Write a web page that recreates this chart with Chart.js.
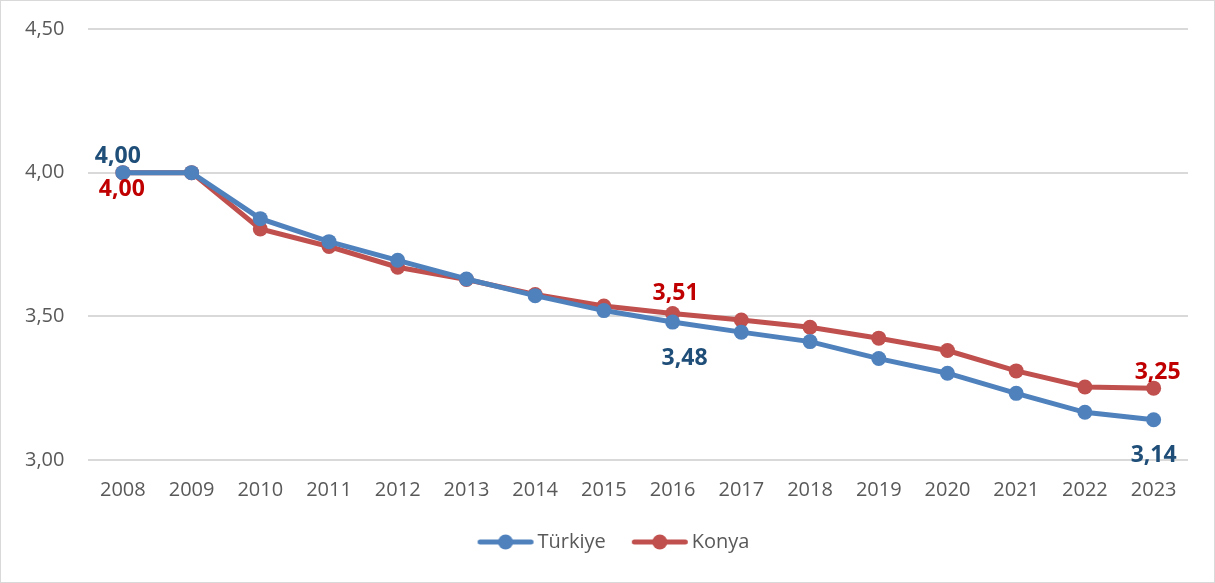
<!DOCTYPE html>
<html>
<head>
<meta charset="utf-8">
<script src="https://cdn.jsdelivr.net/npm/chart.js@4.4.1/dist/chart.umd.min.js"></script>
<style>
    html, body { margin: 0; padding: 0; background: #fff; }
    .frame {
        width: 1215px;
        height: 583px;
        box-sizing: border-box;
        border: 1px solid #d9d9d9;
        position: relative;
    }
    canvas { display: block; }
</style>
</head>
<body>
<div class="frame">
    <canvas id="chart" width="1213" height="581"></canvas>
</div>
<script>
const years = ['2008', '2009', '2010', '2011', '2012', '2013', '2014', '2015',
    '2016', '2017', '2018', '2019', '2020', '2021', '2022', '2023'];
const turkiye = [4.00, 4.00, 3.84, 3.76, 3.695, 3.63, 3.572, 3.52,
    3.48, 3.445, 3.412, 3.353, 3.302, 3.232, 3.166, 3.14];
const konya = [4.00, 4.00, 3.804, 3.743, 3.671, 3.628, 3.576, 3.536,
    3.51, 3.487, 3.462, 3.424, 3.381, 3.31, 3.254, 3.25];
const seriesNames = ['Türkiye', 'Konya'];

// which points get a value label (dataset index, point index), plus where to put it
const valueLabels = [
    { ds: 0, idx: 0, dx: -5, dy: -16 },
    { ds: 1, idx: 0, dx: -1, dy: 17 },
    { ds: 1, idx: 8, dx: 3, dy: -20 },
    { ds: 0, idx: 8, dx: 12, dy: 36 },
    { ds: 1, idx: 15, dx: 4, dy: -16 },
    { ds: 0, idx: 15, dx: 0, dy: 36 }
];

const lineColors = ['#4f81bd', '#c0504d'];
const labelColors = ['#1f4e79', '#c00000'];
const fontFamily = '"Open Sans", "Noto Sans", sans-serif';

const formatNumber = (v) => v.toFixed(2).replace('.', ',');

// line + dot swatch for the legend, shifted right inside the image so the text sits closer
function legendSwatch(color) {
    const c = document.createElement('canvas');
    c.width = 72;
    c.height = 16;
    const ctx = c.getContext('2d');
    ctx.strokeStyle = color;
    ctx.lineWidth = 5;
    ctx.lineCap = 'round';
    ctx.beginPath();
    ctx.moveTo(16.5, 8);
    ctx.lineTo(67.5, 8);
    ctx.stroke();
    ctx.fillStyle = color;
    ctx.beginPath();
    ctx.arc(42, 8, 7.5, 0, Math.PI * 2);
    ctx.fill();
    return c;
}

const valueLabelPlugin = {
    id: 'valueLabels',
    afterDatasetsDraw(chart) {
        const ctx = chart.ctx;
        ctx.save();
        ctx.font = 'bold 23px ' + fontFamily;
        ctx.textAlign = 'center';
        ctx.textBaseline = 'middle';
        valueLabels.forEach(l => {
            const point = chart.getDatasetMeta(l.ds).data[l.idx];
            const value = chart.data.datasets[l.ds].data[l.idx];
            ctx.fillStyle = labelColors[l.ds];
            ctx.fillText(formatNumber(value), point.x + l.dx, point.y + l.dy);
        });
        ctx.restore();
    }
};

// legend is centred on the padded box; nudge it to the middle of the canvas
const legendShift = {
    id: 'legendShift',
    afterLayout(chart) {
        chart.legend.left += 16;
        chart.legend.right += 16;
    }
};

const swatches = lineColors.map(legendSwatch);

new Chart(document.getElementById('chart'), {
    type: 'line',
    data: {
        labels: years,
        datasets: [turkiye, konya].map((values, i) => ({
            label: seriesNames[i],
            data: values,
            borderColor: lineColors[i],
            backgroundColor: lineColors[i],
            borderWidth: 5,
            pointRadius: 7.5,
            pointHoverRadius: 7.5,
            pointBorderWidth: 0,
            tension: 0
        }))
    },
    options: {
        responsive: false,
        animation: false,
        layout: {
            padding: { left: 0, right: 26, top: 28, bottom: 20 }
        },
        scales: {
            x: {
                offset: true,
                grid: { display: false },
                border: { display: false },
                ticks: {
                    color: '#595959',
                    font: { family: fontFamily, size: 20 },
                    padding: 10
                }
            },
            y: {
                min: 3,
                max: 4.5,
                grid: { color: '#d9d9d9', lineWidth: 2, drawTicks: false },
                border: { display: false },
                ticks: {
                    stepSize: 0.5,
                    color: '#595959',
                    font: { family: fontFamily, size: 20, lineHeight: 0.1 },
                    padding: 24,
                    callback: (v) => formatNumber(v)
                }
            }
        },
        plugins: {
            legend: {
                position: 'bottom',
                labels: {
                    usePointStyle: true,
                    pointStyleWidth: 56,
                    color: '#595959',
                    font: { family: fontFamily, size: 20 },
                    padding: 20,
                    generateLabels: (chart) => chart.data.datasets.map((ds, i) => ({
                        text: ds.label,
                        pointStyle: swatches[i],
                        fillStyle: lineColors[i],
                        strokeStyle: lineColors[i],
                        lineWidth: 0,
                        fontColor: '#595959',
                        datasetIndex: i,
                        hidden: false
                    }))
                }
            },
            tooltip: { enabled: false }
        }
    },
    plugins: [valueLabelPlugin, legendShift]
});
</script>
</body>
</html>
